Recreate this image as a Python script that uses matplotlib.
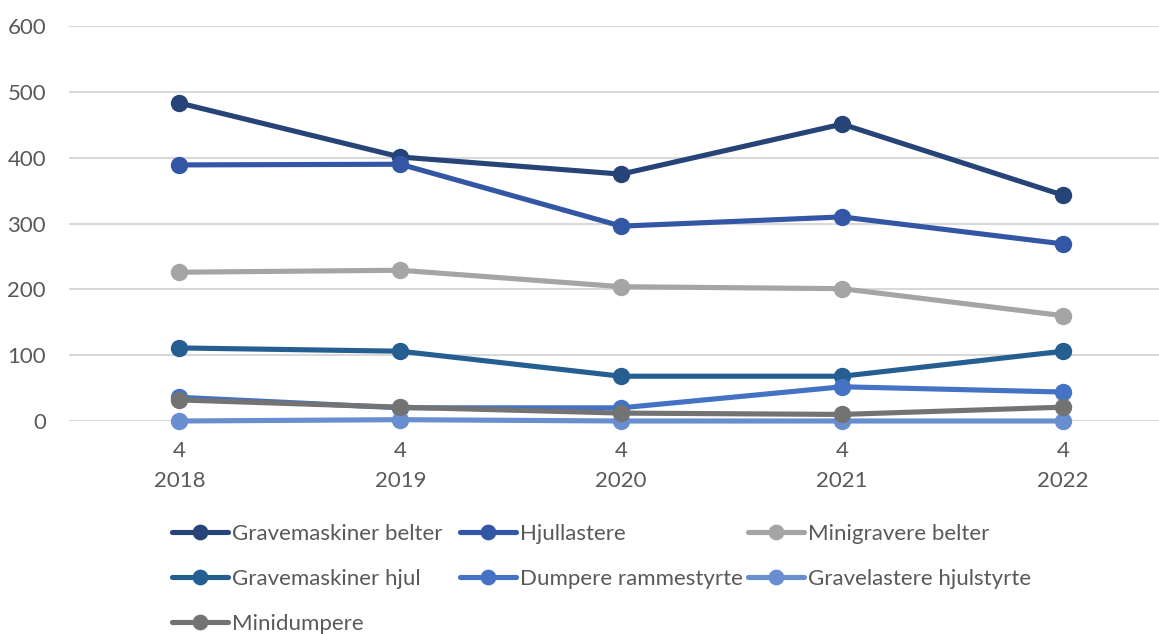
import matplotlib.pyplot as plt
import matplotlib
from matplotlib.transforms import blended_transform_factory

years = ['2018', '2019', '2020', '2021', '2022']
quarter = '4'

series = [
    'Gravemaskiner belter',
    'Hjullastere',
    'Minigravere belter',
    'Gravemaskiner hjul',
    'Dumpere rammestyrte',
    'Gravelastere hjulstyrte',
    'Minidumpere',
]
gravemaskiner_belter = [483, 401, 375, 451, 343]
hjullastere = [389, 390, 296, 310, 269]
minigravere_belter = [226, 229, 204, 201, 160]
gravemaskiner_hjul = [111, 106, 68, 68, 106]
dumpere_rammestyrte = [36, 20, 20, 52, 44]
gravelastere_hjulstyrte = [0, 2, 0, 0, 0]
minidumpere = [32, 21, 12, 10, 21]
values = [gravemaskiner_belter, hjullastere, minigravere_belter, gravemaskiner_hjul,
          dumpere_rammestyrte, gravelastere_hjulstyrte, minidumpere]
colors = ['#264478', '#3457A5', '#A5A5A5', '#255E91', '#4472C4', '#698ED0', '#737373']

matplotlib.rcParams['font.family'] = ['Lato', 'DejaVu Sans']
txt = '#595959'
fs = 16

fig = plt.figure(figsize=(11.59, 6.34), dpi=100)
ax = fig.add_axes([69 / 1159, 213 / 634, 1104.5 / 1159, 395 / 634])

x = list(range(len(years)))
lines = []
for name, vals, c in zip(series, values, colors):
    ln, = ax.plot(x, vals, color=c, linewidth=3.7, marker='o', markersize=11.5,
                  label=name, clip_on=False, solid_capstyle='round')
    lines.append(ln)

ax.set_xlim(-0.5, 4.5)
ax.set_ylim(0, 600)
ax.set_yticks(range(0, 601, 100))
ax.yaxis.grid(True, color='#D9D9D9', linewidth=1.5)
ax.set_axisbelow(True)
for s in ax.spines.values():
    s.set_visible(False)
ax.tick_params(axis='both', length=0, labelsize=fs, labelcolor=txt)
ax.tick_params(axis='y', pad=16.5)
ax.set_xticks(x)
ax.set_xticklabels([])

tr = blended_transform_factory(ax.transData, fig.transFigure)
for i, yr in enumerate(years):
    ax.text(i, 1 - 451 / 634, quarter, transform=tr, ha='center', va='center',
            fontsize=fs, color=txt)
    ax.text(i, 1 - 481 / 634, yr, transform=tr, ha='center', va='center',
            fontsize=fs, color=txt)

# legend laid out in rows of three, like the original
col_x = [172, 460, 748]
row_y = [534, 579, 624]
for k, ln in enumerate(lines):
    r, c = divmod(k, 3)
    fig.legend([ln], [ln.get_label()], loc='center left',
               bbox_to_anchor=(col_x[c] / 1159, 1 - row_y[r] / 634),
               frameon=False, borderpad=0, borderaxespad=0,
               handlelength=2.5, handletextpad=0.18, fontsize=fs,
               labelcolor=txt, markerscale=0.9)

plt.savefig('out.png', dpi=100)
